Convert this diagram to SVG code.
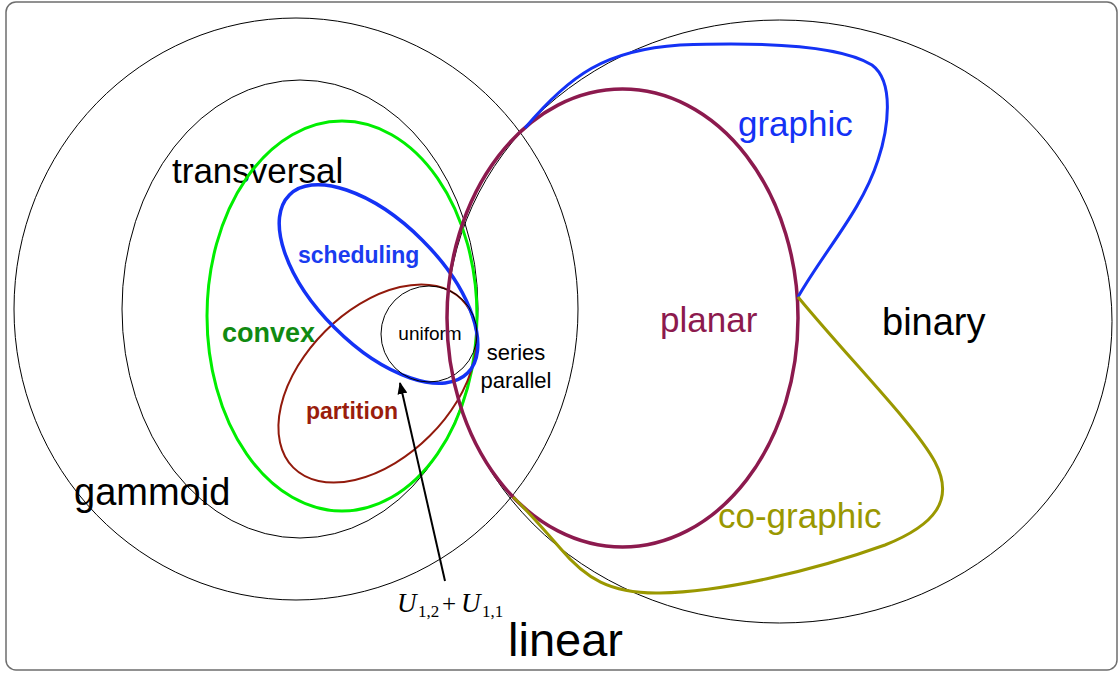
<svg xmlns="http://www.w3.org/2000/svg" width="1120" height="673" viewBox="0 0 1120 673">
  <style>
    .thin { fill: none; stroke: #000; stroke-width: 1; }
    .lbl { font-family: "Liberation Sans", Arial, Helvetica, sans-serif; }
    .bold { font-weight: bold; }
    .math { font-family: "Liberation Serif", "Times New Roman", serif; fill: #000; }
  </style>
  <defs>
    <marker id="arrowHead" viewBox="0 0 12 10" refX="11" refY="5" markerWidth="12" markerHeight="10" markerUnits="userSpaceOnUse" orient="auto">
      <path d="M0,0 L12,5 L0,10 Z" fill="#000"/>
    </marker>
  </defs>

  <rect x="6" y="2" width="1111" height="668" rx="10" ry="10" fill="#fff" stroke="#6e6e6e" stroke-width="1.5"/>

  <g id="gammoid">
    <ellipse class="thin" cx="296" cy="309" rx="282" ry="291"/>
    <text class="lbl" x="74" y="505" font-size="38" fill="#000">gammoid</text>
  </g>

  <g id="transversal">
    <ellipse class="thin" cx="300" cy="309" rx="178" ry="229"/>
    <text class="lbl" x="172" y="183" font-size="35" fill="#000">transversal</text>
  </g>

  <g id="linear">
    <ellipse class="thin" cx="779.5" cy="321.5" rx="332.5" ry="301.5"/>
    <text class="lbl" x="508" y="656" font-size="47" fill="#000">linear</text>
  </g>

  <g id="binary">
    <text class="lbl" x="882" y="335" font-size="38" fill="#000">binary</text>
  </g>

  <g id="convex">
    <ellipse cx="342" cy="316" rx="135" ry="195" fill="none" stroke="#00ee00" stroke-width="3"/>
    <text class="lbl bold" x="222" y="342" font-size="27" fill="#118a11">convex</text>
  </g>

  <g id="partition">
    <ellipse cx="377.5" cy="383.5" rx="119" ry="74" transform="rotate(-45 377.5 383.5)" fill="none" stroke="#921a0c" stroke-width="2"/>
    <text class="lbl bold" x="306" y="419" font-size="23" fill="#9a1d0c">partition</text>
  </g>

  <g id="scheduling">
    <ellipse cx="378.5" cy="284" rx="126" ry="62" transform="rotate(45 378.5 284)" fill="none" stroke="#1432f5" stroke-width="3.5"/>
    <text class="lbl bold" x="298" y="263" font-size="23" fill="#1a3cf0">scheduling</text>
  </g>

  <g id="uniform">
    <circle class="thin" cx="429" cy="334" r="48"/>
    <text class="lbl" x="430" y="340" font-size="19" text-anchor="middle" fill="#000">uniform</text>
  </g>

  <g id="series-parallel">
    <text class="lbl" x="516" y="360" font-size="22" text-anchor="middle" fill="#000">series</text>
    <text class="lbl" x="516" y="388" font-size="22" text-anchor="middle" fill="#000">parallel</text>
  </g>

  <g id="planar">
    <ellipse cx="622.5" cy="318" rx="175.5" ry="229" fill="none" stroke="#8c1a4e" stroke-width="3.5"/>
    <text class="lbl" x="660" y="332" font-size="35" fill="#8c1a4e">planar</text>
  </g>

  <g id="graphic">
    <path d="M525,128 C570,75 605,50 680,45 C760,42 840,45 872,65 C895,82 888,130 878,160 C862,210 825,250 798,297" fill="none" stroke="#1432f5" stroke-width="3"/>
    <text class="lbl" x="738" y="136" font-size="35" fill="#1432f5">graphic</text>
  </g>

  <g id="co-graphic">
    <path d="M798,297 C850,360 915,425 935,462 C955,500 935,525 885,545 C810,572 720,592 660,593 C610,594 585,578 560,548 C540,525 525,508 513,497" fill="none" stroke="#9a9800" stroke-width="3"/>
    <text class="lbl" x="718" y="528" font-size="35" fill="#9a9800">co-graphic</text>
  </g>

  <g id="u12-u11">
    <text class="math" x="397" y="612" font-size="27" font-style="italic">U</text>
    <text class="math" x="418" y="617" font-size="17">1,2</text>
    <text class="math" x="442" y="612" font-size="25">+</text>
    <text class="math" x="461" y="612" font-size="27" font-style="italic">U</text>
    <text class="math" x="482" y="617" font-size="17">1,1</text>
  </g>

  <g id="connectors">
    <line x1="445" y1="581" x2="400" y2="383" stroke="#000" stroke-width="2" marker-end="url(#arrowHead)"/>
  </g>
</svg>
